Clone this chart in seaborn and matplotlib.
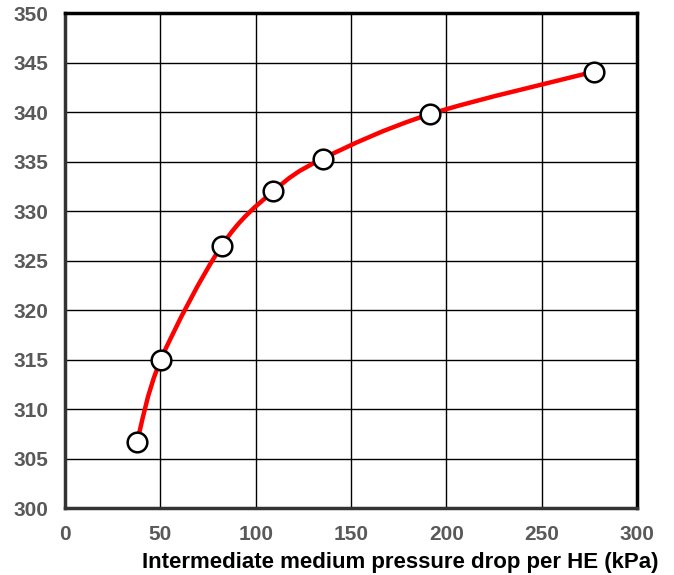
import numpy as np
import pandas as pd
import seaborn as sns
import matplotlib.pyplot as plt
from matplotlib.path import Path
from matplotlib.patches import PathPatch

# values
pressure_drop = [37.8, 50.3, 82.2, 109.2, 135.1, 191.4, 277.6]
temperature = [306.7, 315.0, 326.5, 332.0, 335.3, 339.8, 344.1]
x_ticks = [0, 50, 100, 150, 200, 250, 300]
y_ticks = [300, 305, 310, 315, 320, 325, 330, 335, 340, 345, 350]


def smooth_path(xs, ys):
    """Excel-style smoothed line as cubic Bezier segments through the points."""
    pts = np.column_stack([xs, ys])
    n = len(pts)
    verts = [pts[0]]
    codes = [Path.MOVETO]
    for i in range(n - 1):
        p0 = pts[i - 1] if i > 0 else pts[i]
        p1 = pts[i]
        p2 = pts[i + 1]
        p3 = pts[i + 2] if i + 2 < n else pts[i + 1]
        c1 = p1 + (p2 - p0) / 6.0
        c2 = p2 - (p3 - p1) / 6.0
        verts += [c1, c2, p2]
        codes += [Path.CURVE4] * 3
    return Path(verts, codes)


def plot_chart():
    sns.set_style("white")
    plt.rcParams['font.family'] = ['Liberation Sans', 'DejaVu Sans']

    df = pd.DataFrame({'dp': pressure_drop, 'T': temperature})

    fig = plt.figure(figsize=(6.74, 5.75), dpi=100)
    ax = fig.add_axes([0.0964, 0.1165, 0.8486, 0.8605])

    ax.add_patch(PathPatch(smooth_path(df['dp'], df['T']), facecolor='none',
                           edgecolor='#ff0000', lw=3.2, zorder=3))
    sns.scatterplot(data=df, x='dp', y='T', ax=ax, s=200, color='white',
                    edgecolor='black', linewidth=1.8, zorder=4, legend=False)

    ax.set_xlim(0, 300)
    ax.set_ylim(300, 350)
    ax.set_xticks(x_ticks)
    ax.set_yticks(y_ticks)
    ax.grid(True, color='black', lw=1.0)
    ax.set_axisbelow(True)

    for side in ['top', 'right']:
        ax.spines[side].set_color('black')
        ax.spines[side].set_linewidth(2.5)
    for side in ['left', 'bottom']:
        ax.spines[side].set_color('#333333')
        ax.spines[side].set_linewidth(2.5)

    ax.tick_params(axis='both', length=0, labelsize=15, labelcolor='#595959')
    ax.tick_params(axis='x', pad=12)
    ax.tick_params(axis='y', pad=12)
    for lab in ax.get_xticklabels() + ax.get_yticklabels():
        lab.set_fontweight('bold')

    ax.set_ylabel('')
    ax.set_xlabel('Intermediate medium pressure drop per HE (kPa)',
                  fontsize=16, fontweight='bold', color='black')
    ax.xaxis.set_label_coords(0.587, -0.088)

    fig.savefig('out.png', dpi=100)
    plt.close(fig)


if __name__ == "__main__":
    plot_chart()
